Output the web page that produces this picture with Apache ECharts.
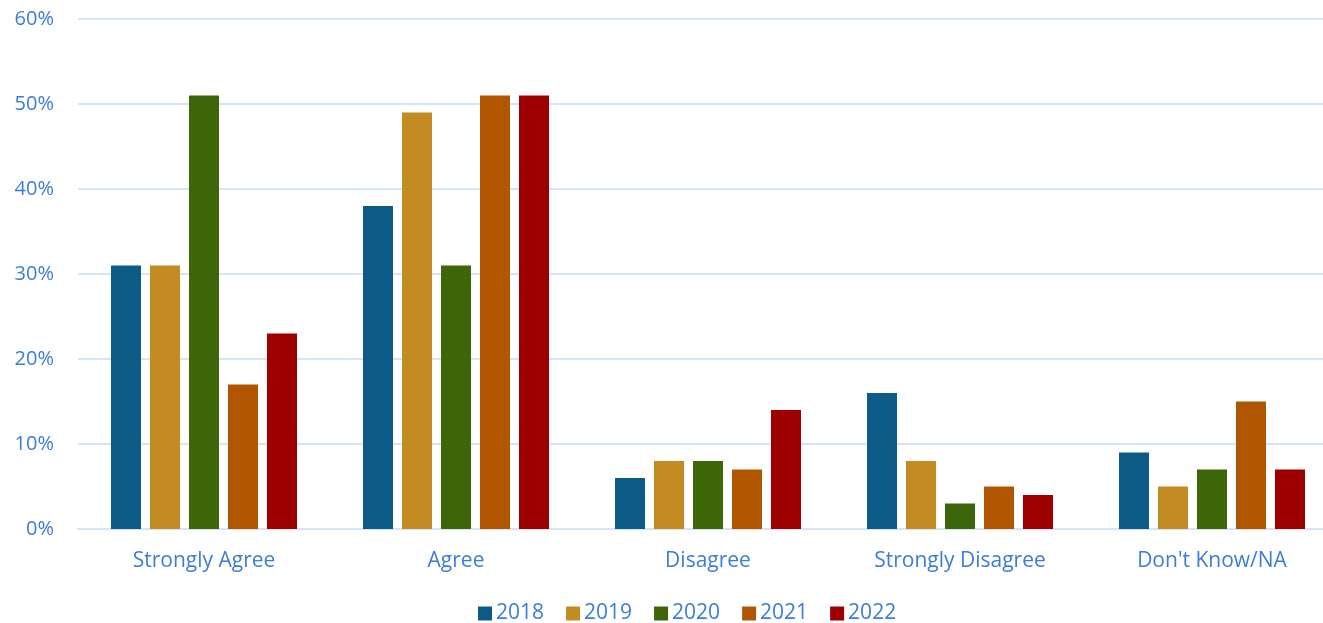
<!DOCTYPE html>
<html><head><meta charset="utf-8">
<script src="https://cdn.jsdelivr.net/npm/echarts@6/dist/echarts.min.js"></script>
<style>html,body{margin:0;padding:0;background:#fff;overflow:hidden}#c{width:1340px;height:623px}</style>
</head><body><div id="c"></div>
<script>
const categories = ["Strongly Agree", "Agree", "Disagree", "Strongly Disagree", "Don't Know/NA"];
const years = ["2018", "2019", "2020", "2021", "2022"];
const v2018 = [31, 38, 6, 16, 9];
const v2019 = [31, 49, 8, 8, 5];
const v2020 = [51, 31, 8, 3, 7];
const v2021 = [17, 51, 7, 5, 15];
const v2022 = [23, 51, 14, 4, 7];
const yTicks = [0, 10, 20, 30, 40, 50, 60];
const colors = ["#0E5A87", "#C48B22", "#3D6608", "#B05600", "#9E0000"];
const values = [v2018, v2019, v2020, v2021, v2022];
const font = "'Open Sans', sans-serif";
const txt = "#3B7DD8";
const chart = echarts.init(document.getElementById('c'));
chart.setOption({
  animation: false,
  textStyle: {fontFamily: font},
  grid: {left: 78, top: 19, width: 1260, height: 510, containLabel: false},
  legend: {
    top: 598, left: 473,
    itemWidth: 14, itemHeight: 14, itemGap: 22,
    icon: 'rect',
    textStyle: {color: txt, fontSize: 21, fontFamily: font, padding: [0,0,0,-1]},
    data: years
  },
  xAxis: {
    type: 'category', data: categories,
    axisLine: {show: true, lineStyle: {color: '#D6E4F5', width: 2}},
    axisTick: {show: false},
    axisLabel: {color: txt, fontSize: 21, margin: 22, fontFamily: font}
  },
  yAxis: {
    type: 'value', min: yTicks[0], max: yTicks[yTicks.length-1], interval: 10,
    axisLine: {show: false}, axisTick: {show: false},
    splitLine: {lineStyle: {color: '#D6E4F5', width: 2}},
    axisLabel: {color: txt, fontSize: 20, margin: 24, fontFamily: font, formatter: '{value}%'}
  },
  series: years.map((y, i) => ({
    name: y, type: 'bar', data: values[i],
    barWidth: 30, barGap: '30%',
    itemStyle: {color: colors[i]}
  }))
});
</script></body></html>
